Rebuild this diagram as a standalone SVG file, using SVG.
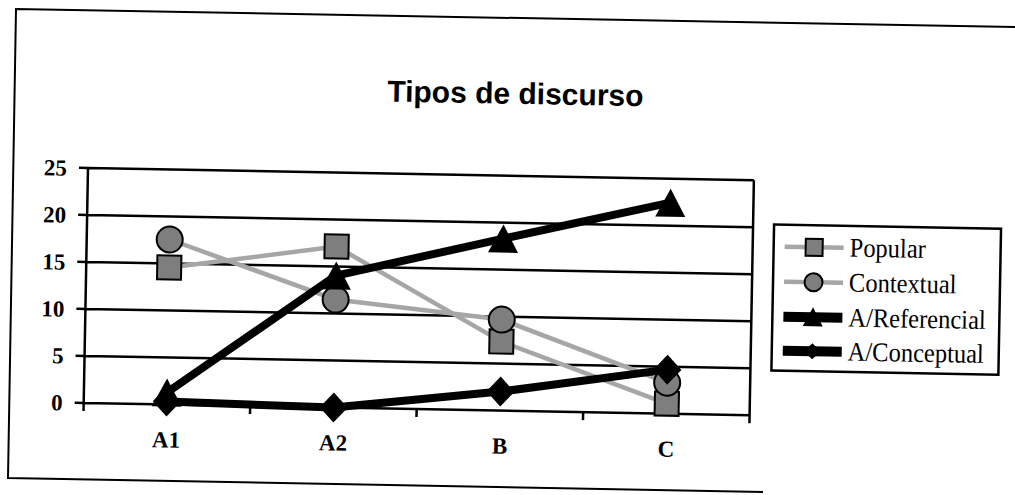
<svg xmlns="http://www.w3.org/2000/svg" width="1015" height="495" viewBox="0 0 1015 495">
<style>
.frame{fill:none;stroke:#000;stroke-width:2}
.grid{stroke:#000;stroke-width:2.5;fill:none}
.tick{stroke:#000;stroke-width:2.5}
.ylab{font-family:"Liberation Serif","Times New Roman",serif;font-weight:bold;font-size:23px;text-anchor:end;fill:#000}
.xlab{font-family:"Liberation Serif","Times New Roman",serif;font-weight:bold;font-size:23px;text-anchor:middle;fill:#000}
.leg{font-family:"Liberation Serif","Times New Roman",serif;font-size:24.5px;fill:#000}
.title{font-family:"Liberation Sans",Arial,sans-serif;font-weight:bold;font-size:30px;text-anchor:middle;fill:#000}
.gline{stroke:#a6a6a6;stroke-width:4.5;fill:none;stroke-linejoin:round}
.bline{stroke:#000;stroke-width:8;fill:none;stroke-linejoin:round}
.lgb{stroke:#000;stroke-width:10}
.lgg{stroke:#a6a6a6;stroke-width:4.5}
.gm{fill:#7e7e7e;stroke:#000;stroke-width:2}
.bm{fill:#000}
.box{fill:#fff;stroke:#000;stroke-width:2.5}
</style>
<defs>
<rect id="sq" x="-12" y="-12" width="24" height="24"/>
<circle id="ci" r="13"/>
<path id="tri" d="M0,-14 L15,14 L-15,14 Z"/>
<path id="dia" d="M0,-15 L14,0 L0,15 L-14,0 Z"/>
<rect id="sqs" x="-8.5" y="-8.5" width="17" height="17"/>
<circle id="cis" r="9"/>
<path id="tris" d="M0,-10 L10,9 L-10,9 Z"/>
<path id="dias" d="M0,-8 L8.5,0 L0,8 L-8.5,0 Z"/>
</defs>
<rect width="1015" height="495" fill="#fff"/>
<path id="frame" class="frame" d="M1015,27 L16,9 L8,478 L763,492"/>
<g transform="rotate(1.05 88 168)">
<g id="title"><text class="title" x="514" y="96">Tipos de discurso</text></g>
<g id="axes">
<path class="grid" d="M88,168H754M88,215H754M88,262H754M88,309H754M88,356H754M88,403H754M88,168V411M754,168V411"/>
<path class="tick" d="M79,168H88M79,215H88M79,262H88M79,309H88M79,356H88M79,403H88M254.5,403V411M421,403V411M587.5,403V411"/>
<text class="ylab" x="67" y="176">25</text>
<text class="ylab" x="67" y="223">20</text>
<text class="ylab" x="67" y="270">15</text>
<text class="ylab" x="67" y="317">10</text>
<text class="ylab" x="67" y="364">5</text>
<text class="ylab" x="67" y="411">0</text>
<text class="xlab" x="171" y="446">A1</text>
<text class="xlab" x="338" y="446">A2</text>
<text class="xlab" x="504.5" y="446">B</text>
<text class="xlab" x="671" y="446">C</text>
</g>
<g id="connectors">
<polyline id="line-popular" class="gline" points="171,266 338,242 504.5,334 671,393"/>
<polyline id="line-contextual" class="gline" points="171,238 338,295 504.5,312 671,372"/>
<polyline id="line-referencial" class="bline" points="171,391 338,271 504.5,231 671,192"/>
<polyline id="line-conceptual" class="bline" points="171,400 338,403 504.5,384 671,359"/>
</g>
<g id="popular" class="gm">
<use href="#sq" x="171" y="266"/><use href="#sq" x="338" y="242"/><use href="#sq" x="504.5" y="334"/><use href="#sq" x="671" y="393"/>
</g>
<g id="contextual" class="gm">
<use href="#ci" x="171" y="238"/><use href="#ci" x="338" y="295"/><use href="#ci" x="504.5" y="312"/><use href="#ci" x="671" y="372"/>
</g>
<g id="referencial" class="bm">
<use href="#tri" x="171" y="391"/><use href="#tri" x="338" y="271"/><use href="#tri" x="504.5" y="231"/><use href="#tri" x="671" y="192"/>
</g>
<g id="conceptual" class="bm">
<use href="#dia" x="171" y="400"/><use href="#dia" x="338" y="403"/><use href="#dia" x="504.5" y="384"/><use href="#dia" x="671" y="359"/>
</g>
<g id="legend">
<rect class="box" x="775" y="212" width="227" height="146"/>
<line class="lgg" x1="786" y1="234" x2="845" y2="234"/>
<use href="#sqs" x="815.5" y="234" class="gm"/>
<text class="leg" transform="translate(851,242.5) scale(1,1.1)">Popular</text>
<line class="lgg" x1="786" y1="269" x2="845" y2="269"/>
<use href="#cis" x="815.5" y="269" class="gm"/>
<text class="leg" transform="translate(851,277.5) scale(1,1.1)">Contextual</text>
<line class="lgb" x1="786" y1="304" x2="845" y2="304"/>
<use href="#tris" x="815.5" y="304" class="bm"/>
<text class="leg" transform="translate(851,312.5) scale(1,1.1)">A/Referencial</text>
<line class="lgb" x1="786" y1="338" x2="845" y2="338"/>
<use href="#dias" x="815.5" y="338" class="bm"/>
<text class="leg" transform="translate(851,346.5) scale(1,1.1)">A/Conceptual</text>
</g>
</g>
</svg>
